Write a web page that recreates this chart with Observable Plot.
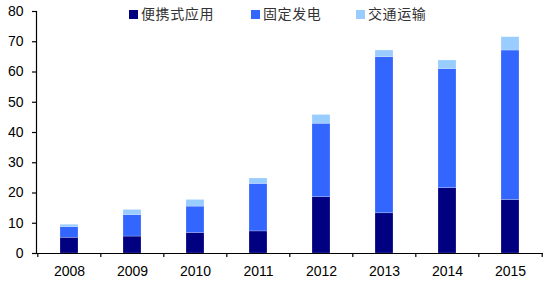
<!DOCTYPE html>
<html>
<head>
<meta charset="utf-8">
<script src="https://cdn.jsdelivr.net/npm/d3@7"></script>
<script src="https://cdn.jsdelivr.net/npm/@observablehq/plot@0.6"></script>
<style>
  body { margin: 0; background: #fff; }
  #wrap { position: relative; width: 544px; height: 283px; }
  #legend { position: absolute; left: 0; top: 0; width: 544px; height: 24px; font-family: "Noto Sans CJK SC", sans-serif; font-size: 14px; color: #333; }
  .item { position: absolute; top: 4px; display: flex; align-items: center; }
  .sw { width: 9px; height: 9px; margin-right: 3px; margin-top: 2px; }
  .lbl { letter-spacing: 0.6px; line-height: 18px; }
</style>
</head>
<body>
<div id="wrap"><div id="legend"></div></div>
<script>
const years = [2008, 2009, 2010, 2011, 2012, 2013, 2014, 2015];
const seriesNames = ["便携式应用", "固定发电", "交通运输"];
const portable   = [5.2, 5.6, 6.8, 7.3, 18.6, 13.3, 21.6, 17.7];
const stationary = [3.5, 7.1, 8.7, 15.7, 24.3, 51.6, 39.4, 49.4];
const transport  = [0.8, 1.7, 2.2, 1.8, 2.9, 2.2, 2.8, 4.4];
const colors = ["#000080", "#3366FF", "#99CCFF"];
const yTicks = [0, 10, 20, 30, 40, 50, 60, 70, 80];

const valuesBySeries = [portable, stationary, transport];
const data = years.flatMap((yr, i) => seriesNames.map((s, k) => ({year: yr, series: s, value: valuesBySeries[k][i]})));

const W = 544, H = 283, ML = 36, MR = 1;
const step = (W - ML - MR) / years.length;

const chart = Plot.plot({
  width: W, height: H,
  marginLeft: ML, marginRight: MR, marginTop: 11, marginBottom: 30,
  style: {fontFamily: "'Liberation Sans', Arial, sans-serif", fontSize: "14px", color: "#000", background: "#fff"},
  x: {type: "band", domain: years, paddingInner: 0.71, paddingOuter: 0.355, axis: null},
  y: {domain: [0, 80], axis: null},
  color: {domain: seriesNames, range: colors},
  marks: [
    Plot.barY(data, {x: "year", y: "value", fill: "series", stroke: "#ffffff", strokeOpacity: 0.35, strokeWidth: 0.6}),
    Plot.frame({anchor: "left", stroke: "#000", strokeWidth: 1.2}),
    Plot.ruleY([0], {stroke: "#000", strokeWidth: 1.2}),
    Plot.axisY(yTicks, {label: null, tickSize: 4, tickPadding: 9, fontSize: 14, stroke: "#000", strokeWidth: 1.2}),
    Plot.axisX(years, {label: null, tickSize: 0, tickPadding: 13, fontSize: 14, tickFormat: d => String(d)}),
    Plot.ruleX(years, {x: d => d, y1: 0, y2: 0, insetBottom: -4, dx: -step / 2, stroke: "#000", strokeWidth: 1.2}),
    Plot.ruleX(years.slice(-1), {x: d => d, y1: 0, y2: 0, insetBottom: -4, dx: step / 2, stroke: "#000", strokeWidth: 1.2})
  ]
});
document.getElementById("wrap").appendChild(chart);

const legendPos = [[129, 140], [251, 263], [356, 368]];
const legend = document.getElementById("legend");
seriesNames.forEach((s, k) => {
  const item = document.createElement("div");
  item.className = "item";
  item.style.left = legendPos[k][0] + "px";
  const sw = document.createElement("div");
  sw.className = "sw";
  sw.style.background = colors[k];
  const lbl = document.createElement("span");
  lbl.className = "lbl";
  lbl.textContent = s;
  item.appendChild(sw);
  item.appendChild(lbl);
  legend.appendChild(item);
});
</script>
</body>
</html>
